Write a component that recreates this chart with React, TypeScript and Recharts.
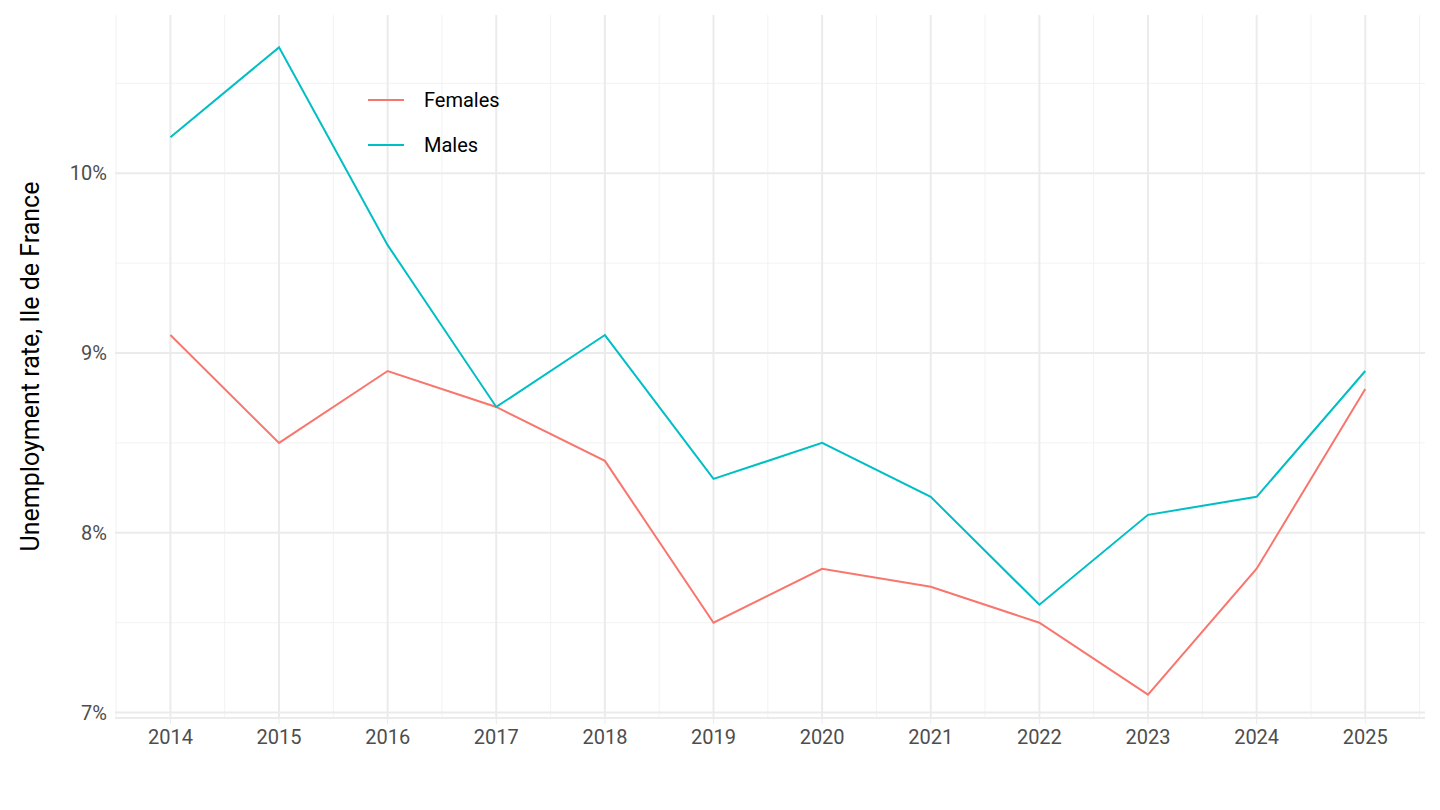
import React from 'react';
import { LineChart, Line, XAxis, YAxis, ReferenceLine } from 'recharts';

const years = [2014, 2015, 2016, 2017, 2018, 2019, 2020, 2021, 2022, 2023, 2024, 2025];
const females = [9.1, 8.5, 8.9, 8.7, 8.4, 7.5, 7.8, 7.7, 7.5, 7.1, 7.8, 8.8];
const males = [10.2, 10.7, 9.6, 8.7, 9.1, 8.3, 8.5, 8.2, 7.6, 8.1, 8.2, 8.9];
const yTicks = [7, 8, 9, 10];
const yMinor = [7.5, 8.5, 9.5, 10.5];
const xMinor = [2013.5, 2014.5, 2015.5, 2016.5, 2017.5, 2018.5, 2019.5, 2020.5, 2021.5, 2022.5, 2023.5, 2024.5, 2025.5];

const data = years.map((y, i) => ({ year: y, Females: females[i], Males: males[i] }));

const font = 'Roboto, "Liberation Sans", Arial, sans-serif';

const LegendBox = () => (
  <div style={{ position: 'absolute', left: 368, top: 77, fontFamily: font, fontSize: 20, color: '#000' }}>
    {[['Females', '#F8766D'], ['Males', '#00BFC4']].map(([n, c]) => (
      <div key={n} style={{ display: 'flex', alignItems: 'center', height: 45 }}>
        <div style={{ width: 36, height: 2, background: c, marginRight: 20 }} />
        {n}
      </div>
    ))}
  </div>
);

export default function App() {
  return (
    <div style={{ position: 'absolute', left: 0, top: 0, width: 1440, height: 810, background: '#fff' }}>
      <LineChart width={1440} height={810} data={data} margin={{ top: 15, right: 15, bottom: 42, left: 10 }}>
        {xMinor.map(x => <ReferenceLine key={'xm' + x} x={x} stroke="#f2f2f2" strokeWidth={1} />)}
        {yMinor.map(y => <ReferenceLine key={'ym' + y} y={y} stroke="#f2f2f2" strokeWidth={1} />)}
        {years.map(x => <ReferenceLine key={'x' + x} x={x} stroke="#ebebeb" strokeWidth={2} />)}
        {yTicks.map(y => <ReferenceLine key={'y' + y} y={y} stroke="#ebebeb" strokeWidth={2} />)}
        <XAxis
          dataKey="year"
          type="number"
          domain={[2013.49, 2025.55]}
          ticks={years}
          allowDataOverflow
          height={50}
          axisLine={{ stroke: '#ebebeb', strokeWidth: 2 }}
          tickLine={{ stroke: '#ebebeb' }}
          tickSize={6}
          tick={{ fill: '#4d4d4d', fontSize: 20, fontFamily: font }}
          tickMargin={6}
        />
        <YAxis
          type="number"
          domain={[6.97, 10.88]}
          ticks={yTicks}
          allowDataOverflow
          width={105}
          axisLine={false}
          tickLine={false}
          tickFormatter={v => `${v}%`}
          tick={{ fill: '#4d4d4d', fontSize: 20, fontFamily: font }}
          label={{ value: 'Unemployment rate, Ile de France', angle: -90, position: 'insideLeft', offset: 20, style: { textAnchor: 'middle', fontSize: 25, fill: '#000', fontFamily: font } }}
        />
        <Line dataKey="Females" stroke="#F8766D" strokeWidth={2} dot={false} isAnimationActive={false} />
        <Line dataKey="Males" stroke="#00BFC4" strokeWidth={2} dot={false} isAnimationActive={false} />
      </LineChart>
      <LegendBox />
    </div>
  );
}
